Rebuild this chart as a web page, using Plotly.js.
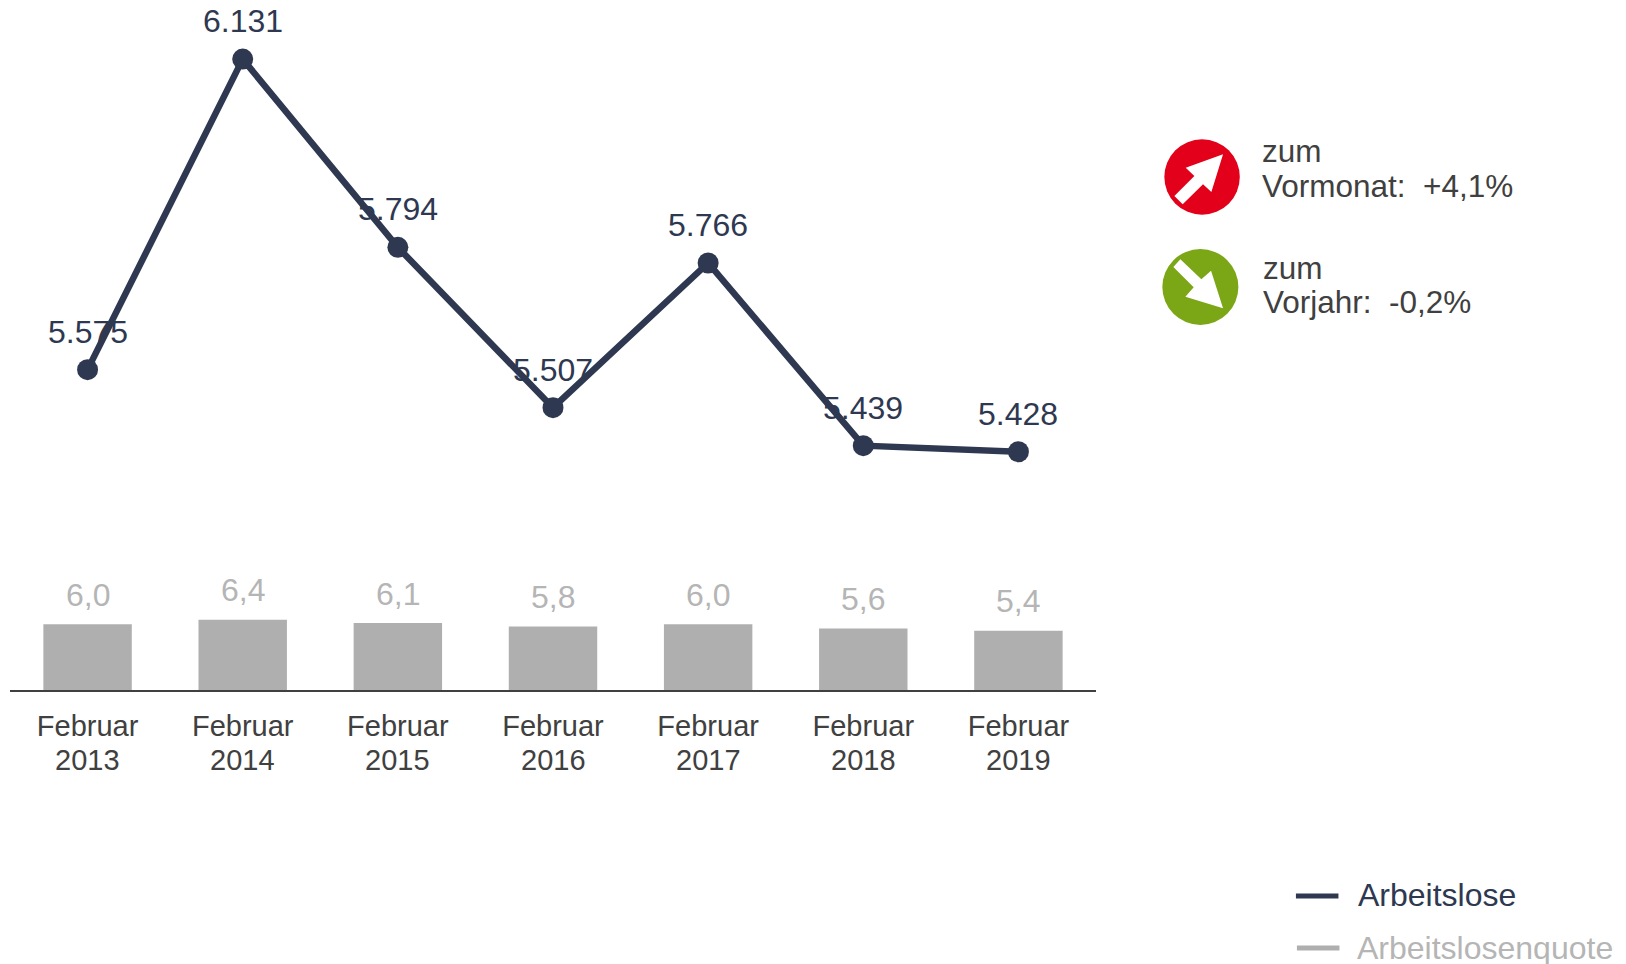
<!DOCTYPE html>
<html><head><meta charset="utf-8">
<script src="https://cdn.plot.ly/plotly-3.0.1.min.js"></script>
<style>html,body{margin:0;padding:0;background:#fff}</style></head>
<body><div id="chart" style="width:1626px;height:964px"></div>
<script>
const months = ["Februar","Februar","Februar","Februar","Februar","Februar","Februar"];
const years = ["2013","2014","2015","2016","2017","2018","2019"];
const arbeitslose = [5575,6131,5794,5507,5766,5439,5428];
const arbeitslosenLabels = ["5.575","6.131","5.794","5.507","5.766","5.439","5.428"];
const quote = [6.0,6.4,6.1,5.8,6.0,5.6,5.4];
const quoteLabels = ["6,0","6,4","6,1","5,8","6,0","5,6","5,4"];

const W=1626,H=964,L=10.4,R=1095.7,B=690;
const FONT='"Liberation Sans", Arial, sans-serif';
const DARK='#2e3850',GRAY='#afafaf',TXT='#404040',LGRAY='#b5b5b5';
const px=x=>(x-L)/(R-L), py=y=>(B-y)/B;
const poly=(pts)=>'M'+pts.map(p=>px(p[0])+','+py(p[1])).join('L')+'Z';
const zoomPt=(zx,zy)=>[1130+zx/3,120+zy/3];

const text=(t,x,y,size,color)=>({text:t,xref:'paper',yref:'paper',x:px(x),y:py(y),xanchor:'left',yanchor:'middle',
  showarrow:false,borderpad:0,font:{family:FONT,size:size,color:color}});

const annotations=[];
years.forEach((yr,i)=>{
  annotations.push({text:quoteLabels[i],x:i,y:quote[i],xref:'x',yref:'y',yshift:29.5,yanchor:'middle',showarrow:false,
    font:{family:FONT,size:32,color:LGRAY}});
  annotations.push({text:arbeitslosenLabels[i],x:i,y:arbeitslose[i],xref:'x',yref:'y2',yshift:38,yanchor:'middle',showarrow:false,
    font:{family:FONT,size:32,color:DARK}});
  annotations.push({text:yr,x:i,y:py(759.5),xref:'x',yref:'paper',yanchor:'middle',showarrow:false,
    font:{family:FONT,size:29,color:TXT}});
});
annotations.push(
  text('zum',1260.5,151,31.5,TXT),
  text('Vormonat:\u00a0\u00a0+4,1%',1260.5,186,31.5,TXT),
  text('zum',1262,268,31.5,TXT),
  text('Vorjahr:\u00a0\u00a0-0,2%',1262,302,31.5,TXT),
  text('Arbeitslose',1357,895,32,DARK),
  text('Arbeitslosenquote',1356,948,32,LGRAY)
);

const circle=(cx,cy,r,c)=>({type:'circle',xref:'paper',yref:'paper',x0:px(cx-r),x1:px(cx+r),y0:py(cy+r),y1:py(cy-r),
  fillcolor:c,line:{width:0}});
const shapes=[
  circle(1201.7,177,37.7,'#e2001a'),
  circle(1200,287,38,'#7ba717'),
  {type:'path',xref:'paper',yref:'paper',fillcolor:'#fff',line:{width:0},
   path:poly([[278,103],[166,143],[192,168],[132,228],[157,253],[218,193],[243,216]].map(p=>zoomPt(p[0],p[1])))},
  {type:'path',xref:'paper',yref:'paper',fillcolor:'#fff',line:{width:0},
   path:poly([[150,418],[129,441],[190,502],[165,530],[278,565],[242,452],[213,478]].map(p=>zoomPt(p[0],p[1])))},
  {type:'line',xref:'paper',yref:'paper',x0:px(1295.5),x1:px(1338),y0:py(896),y1:py(896),line:{color:DARK,width:5}},
  {type:'line',xref:'paper',yref:'paper',x0:px(1296.5),x1:px(1339),y0:py(948),y1:py(948),line:{color:GRAY,width:5}}
];

const cats=years.map((y,i)=>i);
Plotly.newPlot('chart',[
 {type:'bar',x:cats,y:quote,width:0.57,marker:{color:GRAY,line:{width:0}},name:'Arbeitslosenquote',yaxis:'y',hoverinfo:'x+y'},
 {type:'scatter',mode:'lines+markers',x:cats,y:arbeitslose,yaxis:'y2',name:'Arbeitslose',
  line:{color:DARK,width:6.5},marker:{color:DARK,size:21}}
],{
 width:W,height:H,showlegend:false,paper_bgcolor:'#fff',plot_bgcolor:'rgba(0,0,0,0)',
 margin:{l:L,r:W-R,t:0,b:H-B,pad:0},
 font:{family:FONT},
 xaxis:{range:[-0.5,6.5],tickmode:'array',tickvals:cats,ticktext:months,showgrid:false,zeroline:false,showline:true,
  linecolor:TXT,linewidth:2,ticks:'outside',ticklen:9,tickcolor:'rgba(0,0,0,0)',tickfont:{family:FONT,size:29,color:TXT},tickangle:0},
 yaxis:{range:[0,62.9],visible:false,fixedrange:true},
 yaxis2:{range:[5001.5,6236.8],visible:false,overlaying:'y',fixedrange:true},
 shapes:shapes,annotations:annotations
},{displayModeBar:false,staticPlot:true});
</script></body></html>
